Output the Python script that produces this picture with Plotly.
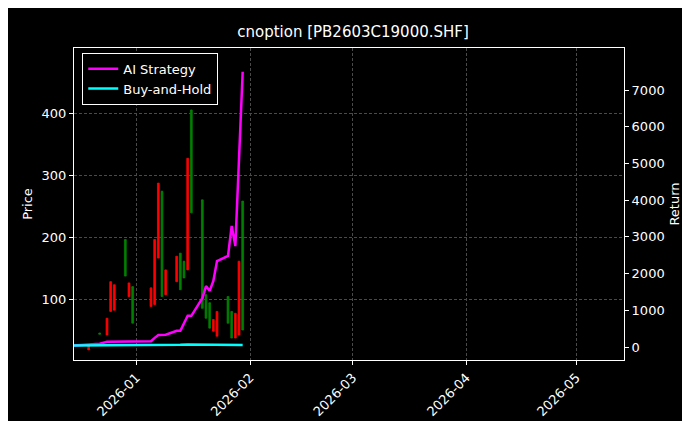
import plotly.graph_objects as go

# daily bars
dates = ["2025-12-19", "2025-12-22", "2025-12-24", "2025-12-25", "2025-12-26",
         "2025-12-29", "2025-12-30", "2025-12-31", "2026-01-05", "2026-01-06",
         "2026-01-07", "2026-01-08", "2026-01-09", "2026-01-12", "2026-01-13",
         "2026-01-14", "2026-01-15", "2026-01-16", "2026-01-19", "2026-01-20",
         "2026-01-21", "2026-01-22", "2026-01-23", "2026-01-26", "2026-01-27",
         "2026-01-28", "2026-01-29", "2026-01-30"]
opens = [26, 43, 69, 128, 123, 137, 126, 61, 118, 196, 287, 104, 147, 169, 115,
         134, 327, 239, 85, 69, 53, 67, 80, 61, 37, 77, 161, 50]
closes = [18, 45, 42, 80, 82, 196, 104, 120, 88, 91, 166, 274, 107, 128, 174,
          161, 147, 405, 260, 107, 94, 48, 40, 104, 80, 37, 42, 258]

# returns
eq_dates = ["2025-12-15", "2025-12-19", "2025-12-22", "2025-12-24", "2025-12-26",
            "2026-01-05", "2026-01-06", "2026-01-07", "2026-01-09", "2026-01-12",
            "2026-01-13", "2026-01-15", "2026-01-16", "2026-01-19", "2026-01-20",
            "2026-01-21", "2026-01-22", "2026-01-23", "2026-01-26", "2026-01-27",
            "2026-01-28", "2026-01-29", "2026-01-30"]
ai_ret = [40, 60, 90, 140, 145, 160, 250, 330, 335, 440, 440, 850, 850, 1330,
          1660, 1530, 1800, 2340, 2480, 3300, 2750, 5100, 7500]
bh_ret = [40, 40, 45, 50, 50, 55, 55, 60, 60, 60, 60, 70, 70, 65, 60, 60, 55,
          55, 55, 55, 55, 55, 55]

fig = go.Figure()

fig.add_trace(go.Candlestick(
    x=dates, open=opens, close=closes,
    high=[max(o, c) for o, c in zip(opens, closes)],
    low=[min(o, c) for o, c in zip(opens, closes)],
    increasing=dict(line=dict(color='green', width=0.8), fillcolor='green'),
    decreasing=dict(line=dict(color='red', width=0.8), fillcolor='red'),
    whiskerwidth=0, showlegend=False, yaxis='y',
))

fig.add_trace(go.Scatter(
    x=eq_dates, y=ai_ret, mode='lines', name='AI Strategy',
    line=dict(color='#ff00ff', width=2.5), yaxis='y2',
))
fig.add_trace(go.Scatter(
    x=eq_dates, y=bh_ret, mode='lines', name='Buy-and-Hold',
    line=dict(color='#00ffff', width=2.5), yaxis='y2',
))

grid = dict(showgrid=True, gridcolor='#4a4a4a', griddash='3px,2px', gridwidth=0.5,
            zeroline=False, ticks='outside', tickcolor='white', ticklen=4,
            automargin=False, tickfont=dict(color='white', size=13))

fig.update_layout(
    width=690, height=421,
    title=dict(text='cnoption [PB2603C19000.SHF]', x=0.5, xanchor='center',
               y=0.955, font=dict(color='white', size=15)),
    paper_bgcolor='black', plot_bgcolor='black',
    font=dict(family='DejaVu Sans', color='white', size=12),
    margin=dict(l=66, r=74, t=40, b=69),
    xaxis=dict(**grid, type='date', range=['2025-12-15', '2026-05-14'],
               tickformat='%Y-%m', tickangle=-45, dtick='M1',
               rangeslider=dict(visible=False),
               showline=True, linecolor='white', mirror=True),
    yaxis=dict(**grid, range=[1.6, 505], tickvals=[100, 200, 300, 400],
               title=dict(text='Price', font=dict(color='white', size=13), standoff=6),
               showline=True, linecolor='white', mirror=True),
    yaxis2=dict(**dict(grid, showgrid=False), overlaying='y', side='right',
                range=[-354, 8147], tickvals=list(range(0, 8000, 1000)),
                title=dict(text='Return', font=dict(color='white', size=13), standoff=6)),
    legend=dict(x=0.015, y=0.985, xanchor='left', yanchor='top',
                bgcolor='black', bordercolor='white', borderwidth=1,
                font=dict(color='white', size=13)),
)

fig.write_html("out.html")
